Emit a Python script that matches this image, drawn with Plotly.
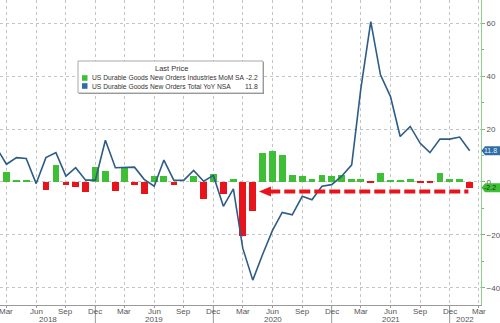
import pandas as pd
import plotly.graph_objects as go

# Monthly observations, Feb 2018 .. Feb 2022
months = pd.date_range("2018-02-01", "2022-02-01", freq="MS")

# US Durable Goods New Orders Industries MoM SA (%)
mom = [None,
       3.8, 0.4, 0.4, 0.0, -2.9, 6.3, -1.0, -2.0, -3.9, 5.8,
       4.1, -3.5, 5.2, -1.0, -4.5, 2.2, 2.2, -1.3, 0.0, 2.2, -6.4, 2.9,
       -4.5, 1.0, -20.6, -11.1, 10.8, 11.7, 10.1, 2.5, 2.2, 1.2, 2.6, 2.2,
       2.6, 1.3, 1.3, -0.5, 3.4, 0.8, 0.5, 1.3, -0.3, -0.3, 3.4, 1.3,
       1.3, -2.2]

# US Durable Goods New Orders Total YoY NSA (%)
yoy = [12.4,
       6.7, 9.2, 8.9, -0.6, 9.2, 11.1, 2.2, 5.4, 0.7, 0.7,
       15.8, 5.4, 5.4, 5.6, 1.0, -1.6, 8.3, 0.6, 0.7, 4.4, 0.3, 2.5,
       -9.2, -2.6, -25.0, -37.1, -27.5, -18.3, -11.5, -12.4, -5.4, -6.7, -1.6, -1.0,
       2.2, 6.5, 35.0, 60.6, 40.5, 32.3, 17.2, 21.0, 14.6, 11.1, 16.2, 16.2,
       17.0, 11.8]

mom_name = "US Durable Goods New Orders Industries MoM SA"
yoy_name = "US Durable Goods New Orders Total YoY NSA"
mom_last = -2.2
yoy_last = 11.8

tick_dates = pd.date_range("2018-03-01", "2022-03-01", freq="3MS")
tick_text = [d.strftime("%b") for d in tick_dates]
y_ticks = [-40, -20, 0, 20, 40, 60]
year_breaks = pd.to_datetime(["2018-12-01", "2019-12-01", "2020-12-01", "2021-12-01"])
years = ["2018", "2019", "2020", "2021", "2022"]
x_range = [pd.Timestamp("2018-02-09"), pd.Timestamp("2022-03-08")]

GREEN = "#3fbf35"
RED = "#e8141c"
BLUE = "#2d5c86"
W, H = 500, 323
ML, MR, MT, MB = 0, 19, 0, 18
PW, PH = W - ML - MR, H - MT - MB


def px(x):
    return x / PW


def py(y):
    return 1 - y / PH


bar_colors = [GREEN if (v is not None and v >= 0) else RED for v in mom]

fig = go.Figure()
fig.add_trace(go.Bar(
    x=months, y=mom, marker_color=bar_colors, marker_line_width=0,
    width=[21 * 86400000] * len(months), name=mom_name, showlegend=False,
))
fig.add_trace(go.Scatter(
    x=months, y=yoy, mode="lines", line=dict(color=BLUE, width=1.6),
    name=yoy_name, showlegend=False,
))

shapes = []
annotations = []

# month labels under the date axis
for d, t in zip(tick_dates, tick_text):
    annotations.append(dict(x=d, y=py(311), xref="x", yref="paper", text=t,
                            showarrow=False, font=dict(size=8, color="#555"),
                            xanchor="center", yanchor="middle"))

# year separators under the date axis
for d in year_breaks:
    shapes.append(dict(type="line", xref="x", yref="paper", x0=d, x1=d,
                       y0=py(306), y1=py(323), line=dict(color="#9a9a9a", width=1)))

# year labels centred between the separators
bounds = [x_range[0]] + list(year_breaks) + [x_range[1]]
for i, yr in enumerate(years):
    mid = bounds[i] + (bounds[i + 1] - bounds[i]) / 2
    annotations.append(dict(x=mid, y=py(319.5), xref="x", yref="paper", text=yr,
                            showarrow=False, font=dict(size=8, color="#555"),
                            xanchor="center", yanchor="middle"))

# red dashed arrow along the latest reading
arrow_y = -3.6
shapes.append(dict(type="line", xref="x", yref="y", x0="2020-05-22", x1="2022-01-28",
                   y0=arrow_y, y1=arrow_y, line=dict(color=RED, width=4, dash="11px,4px")))
shapes.append(dict(type="path", xref="x", yref="y", xsizemode="pixel", ysizemode="pixel",
                   xanchor="2020-04-20", yanchor=arrow_y,
                   path="M 0,0 L 12,5 L 12,-5 Z", fillcolor=RED, line=dict(width=0)))

# last-value tags on the right axis
for val, fill, txt_col in [(yoy_last, "#2f6ea5", "#e8f0ff"), (mom_last, GREEN, "#1a3a12")]:
    shapes.append(dict(type="path", xref="paper", yref="y", xsizemode="pixel",
                       ysizemode="pixel", xanchor=1, yanchor=val,
                       path="M 0.5,0 L 4,4.5 L 19,4.5 L 19,-4.5 L 4,-4.5 Z",
                       fillcolor=fill, line=dict(width=0), layer="above"))
    annotations.append(dict(x=1, y=val, xref="paper", yref="y", text=f"{val:.1f}",
                            showarrow=False, xanchor="left", yanchor="middle",
                            xshift=1.5, borderpad=0, font=dict(size=7, color=txt_col)))

# legend box
shapes.append(dict(type="rect", xref="paper", yref="paper", x0=px(79), x1=px(264),
                   y0=py(94), y1=py(62), fillcolor="#8a8a8a", line=dict(width=0)))
shapes.append(dict(type="rect", xref="paper", yref="paper", x0=px(78), x1=px(263),
                   y0=py(93), y1=py(61), fillcolor="white",
                   line=dict(color="#a8a8a8", width=1)))
annotations.append(dict(x=px(171), y=py(69), xref="paper", yref="paper", text="Last Price",
                        showarrow=False, xanchor="center", yanchor="middle",
                        font=dict(size=7.5, color="#333")))
for row_y, col, name, val in [(78, GREEN, mom_name, mom_last), (86, "#2f6ea5", yoy_name, yoy_last)]:
    shapes.append(dict(type="rect", xref="paper", yref="paper", x0=px(82), x1=px(87.5),
                       y0=py(row_y + 2.8), y1=py(row_y - 2.8), fillcolor=col,
                       line=dict(width=0)))
    annotations.append(dict(x=px(90), y=py(row_y), xref="paper", yref="paper", text=name,
                            showarrow=False, xanchor="left", yanchor="middle",
                            font=dict(size=6.7, color="#333")))
    annotations.append(dict(x=px(260), y=py(row_y), xref="paper", yref="paper",
                            text=f"{val:.1f}", showarrow=False, xanchor="right",
                            yanchor="middle", font=dict(size=6.8, color="#333")))

fig.update_layout(
    width=W, height=H, margin=dict(l=ML, r=MR, t=MT, b=MB),
    paper_bgcolor="white", plot_bgcolor="white",
    font=dict(family="Liberation Sans, Arial, sans-serif"),
    shapes=shapes, annotations=annotations, showlegend=False, bargap=0,
    xaxis=dict(type="date", range=x_range, tickvals=tick_dates, showticklabels=False,
               showgrid=True, gridcolor="#c4c4c4", griddash="dot", gridwidth=1,
               showline=True, linecolor="#9a9a9a", linewidth=1,
               ticks="outside", ticklen=2, tickcolor="#9a9a9a", zeroline=False),
    yaxis=dict(side="right", range=[-46.5, 68.8], tickvals=y_ticks,
               showgrid=True, gridcolor="#c4c4c4", griddash="dot", gridwidth=1,
               zeroline=False, showline=True, linecolor="#8fcf8f", linewidth=1,
               ticks="outside", ticklen=3, tickcolor="#6fbf6f",
               minor=dict(dtick=10, ticks="outside", ticklen=2, tickcolor="#6fbf6f",
                          showgrid=False),
               tickfont=dict(size=8, color="#555")),
)

fig.write_html("out.html")
